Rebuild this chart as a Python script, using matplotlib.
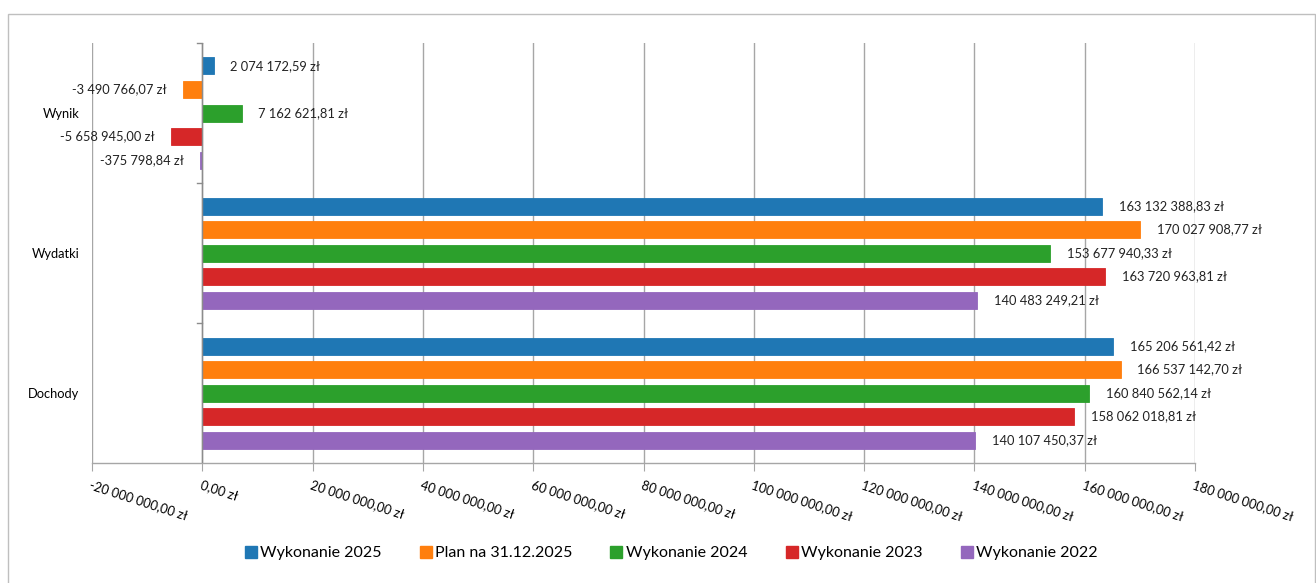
import matplotlib
matplotlib.use("Agg")
import matplotlib.pyplot as plt
from matplotlib.lines import Line2D
from matplotlib.patches import Rectangle
import numpy as np

plt.rcParams['font.family'] = ['Lato', 'DejaVu Sans']

categories = ["Dochody", "Wydatki", "Wynik"]
series_names = ["Wykonanie 2025", "Plan na 31.12.2025", "Wykonanie 2024",
                "Wykonanie 2023", "Wykonanie 2022"]
colors = ["#1f77b4", "#ff7f0e", "#2ca02c", "#d62728", "#9467bd"]

# values per series, in category order [Dochody, Wydatki, Wynik]
wyk_2025 = [165206561.42, 163132388.83, 2074172.59]
plan_2025 = [166537142.70, 170027908.77, -3490766.07]
wyk_2024 = [160840562.14, 153677940.33, 7162621.81]
wyk_2023 = [158062018.81, 163720963.81, -5658945.00]
wyk_2022 = [140107450.37, 140483249.21, -375798.84]
series = [wyk_2025, plan_2025, wyk_2024, wyk_2023, wyk_2022]

x_ticks = np.arange(-20_000_000, 180_000_001, 20_000_000)


def pl_fmt(v):
    s = f"{abs(v):,.2f}".replace(",", " ").replace(".", ",")
    return ("-" if v < 0 else "") + s + " zł"


W, H = 1316, 583
fig = plt.figure(figsize=(W / 100, H / 100), dpi=100)
ax = fig.add_axes([92 / W, 1 - 463 / H, (1195 - 92) / W, (463 - 43) / H])

# outer border
fig.patches.append(Rectangle((8 / W, -0.01), 1 - 8 / W - 1 / W, 1 - 14 / H + 0.01,
                             transform=fig.transFigure, fill=False,
                             edgecolor="#bfbfbf", linewidth=1.0))

slot = 23.5 / 140
bar_h = 17 / 140
n = len(series)
ypos = np.arange(len(categories))
FS = 9.3

for i, (vals, c) in enumerate(zip(series, colors)):
    offs = (n - 1) / 2 * slot - i * slot
    ys = ypos + offs
    ax.barh(ys, vals, height=bar_h, color=c, edgecolor=c, linewidth=0.6, zorder=3)
    for y, v in zip(ys, vals):
        if v >= 0:
            ax.annotate(pl_fmt(v), (v, y), xytext=(12, 0), textcoords="offset points",
                        ha="left", va="center", fontsize=FS, color="#222222")
        else:
            ax.annotate(pl_fmt(v), (v, y), xytext=(-12, 0), textcoords="offset points",
                        ha="right", va="center", fontsize=FS, color="#222222")

ax.set_xlim(x_ticks[0], x_ticks[-1])
ax.set_ylim(-0.5, len(categories) - 0.5)
ax.set_xticks(x_ticks)
ax.set_xticklabels([pl_fmt(v) for v in x_ticks], rotation=-18, ha="left", va="top",
                   rotation_mode="anchor", fontsize=FS)
ax.tick_params(axis="x", length=6, color="#a6a6a6", pad=5)
ax.set_yticks(ypos)
ax.set_yticklabels(categories, fontsize=FS)
ax.tick_params(axis="y", length=0, pad=9)

ax.grid(axis="x", color="#a6a6a6", linewidth=1.0, zorder=0)
for s in ["top", "right", "left"]:
    ax.spines[s].set_visible(False)
ax.spines["bottom"].set_color("#a6a6a6")
ax.spines["bottom"].set_linewidth(1.0)
ax.axvline(0, color="#8c8c8c", linewidth=1.0, zorder=4)
# small category tick marks on the zero axis
px = (x_ticks[-1] - x_ticks[0]) / (1195 - 92)
for yb in [0.5, 1.5, 2.5]:
    ax.plot([-5 * px, 0], [yb, yb], color="#8c8c8c", linewidth=1.0, zorder=4,
            clip_on=False)

handles = [Line2D([0], [0], marker="s", linestyle="none", markersize=8,
                  markerfacecolor=c, markeredgecolor=c) for c in colors]
fig.legend(handles, series_names, loc="center", bbox_to_anchor=(671 / W, 1 - 553 / H),
           ncol=5, frameon=False, fontsize=11.5, handlelength=0.8,
           handletextpad=0.2, columnspacing=2.35)

fig.savefig("out.png", dpi=100)
